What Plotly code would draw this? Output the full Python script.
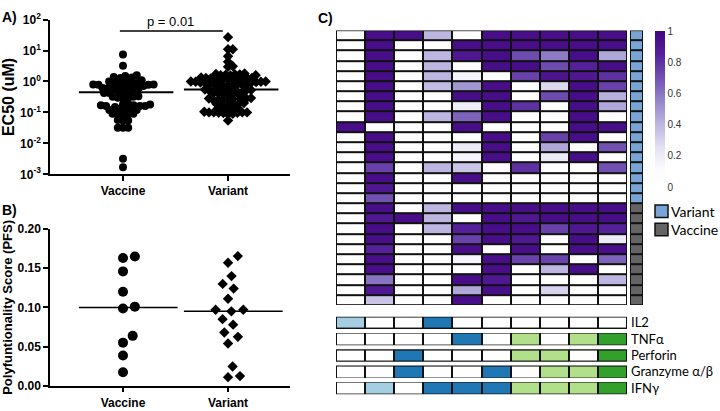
import numpy as np
import plotly.graph_objects as go

# ---------------- data ----------------
groups = ["Vaccine", "Variant"]

ec50_vaccine = [7.5, 3.2,
                1.6, 1.5, 1.4, 1.35, 1.3,
                1.1, 1.05, 1.0, 1.0, 0.95, 0.9,
                0.8, 0.8, 0.8, 0.78, 0.78, 0.75, 0.75, 0.72, 0.7,
                0.62, 0.6, 0.6, 0.58, 0.55, 0.55,
                0.45, 0.44, 0.42, 0.42, 0.4,
                0.33, 0.32, 0.32, 0.3, 0.3, 0.28,
                0.19, 0.18, 0.18, 0.17, 0.17, 0.16, 0.16, 0.16, 0.15,
                0.13, 0.13, 0.12, 0.12, 0.12,
                0.09, 0.09, 0.088, 0.088, 0.085,
                0.057, 0.055, 0.055,
                0.032, 0.032, 0.032,
                0.0032, 0.0017]

ec50_variant = [27,
                11, 11,
                6.5,
                4.3,
                3.1, 3.0,
                1.8, 1.75, 1.7, 1.7, 1.65, 1.6, 1.6, 1.55,
                1.35, 1.3, 1.3, 1.3, 1.25, 1.25, 1.2, 1.2, 1.2, 1.15, 1.15,
                1.0, 1.0, 0.98, 0.98, 0.95, 0.95, 0.92, 0.92, 0.9,
                0.82, 0.8, 0.8, 0.78, 0.78, 0.76, 0.75, 0.74,
                0.58, 0.56, 0.55, 0.55, 0.54, 0.53, 0.52, 0.5,
                0.43, 0.42, 0.42, 0.41, 0.4, 0.4, 0.39,
                0.29, 0.28, 0.28, 0.27, 0.27, 0.26, 0.26, 0.25, 0.25,
                0.2, 0.2, 0.19, 0.19, 0.19, 0.18,
                0.145, 0.14, 0.14, 0.135, 0.13,
                0.105, 0.1, 0.1, 0.1, 0.1, 0.098, 0.098, 0.096,
                0.09, 0.088,
                0.055]

ec50_medians = [0.45, 0.55]
p_text = "p = 0.01"
p_bracket_y = 43

pfs_vaccine = [0.165, 0.163, 0.146, 0.120, 0.101, 0.0986, 0.0637, 0.055, 0.0386, 0.0172]
pfs_variant = [0.1655, 0.157, 0.140, 0.130, 0.124, 0.111, 0.097, 0.097, 0.095, 0.085,
               0.078, 0.068, 0.0624, 0.054, 0.0246, 0.0123, 0.011]
pfs_medians = [0.100, 0.095]

functions = ["IL2", "TNFα", "Perforin", "Granzyme α/β", "IFNγ"]
combo_matrix = [
    [1, 0, 0, 1, 0, 0, 0, 0, 0, 0],
    [0, 0, 0, 0, 1, 0, 1, 0, 1, 1],
    [0, 0, 1, 0, 0, 0, 1, 1, 0, 1],
    [0, 0, 1, 0, 0, 1, 0, 1, 1, 1],
    [0, 1, 0, 1, 1, 1, 1, 1, 1, 1],
]

sample_groups = ["Variant"] * 17 + ["Vaccine"] * 10

heat_values = [
    [0, .95, .95, .4, 0, .95, .95, .95, .95, .95],
    [0, .95, 0, 0, .95, .95, .95, .95, .95, .95],
    [0, .95, 0, .4, .9, .95, .72, .58, .95, .45],
    [0, .95, 0, .4, 0, .95, .95, .72, .85, .95],
    [0, .95, 0, .4, .15, 0, .75, .92, .9, .8],
    [0, .95, 0, .38, .5, .95, 0, .28, .95, .75],
    [0, .95, 0, 0, .95, .95, 0, .72, .95, .42],
    [0, .95, 0, 0, .18, .95, .8, 0, .95, .45],
    [0, .95, 0, .4, .65, .95, 0, 0, .95, 0],
    [.95, 0, 0, 0, .95, 0, 0, 0, .95, .95],
    [0, .95, 0, 0, 0, .95, 0, .75, .95, 0],
    [0, .95, 0, 0, .2, .95, 0, .45, 0, .7],
    [0, .95, 0, 0, .15, .95, 0, .2, .95, 0],
    [0, .75, 0, .4, .35, 0, .8, 0, 0, .7],
    [0, .95, 0, 0, .95, 0, 0, 0, 0, 0],
    [0, .9, 0, 0, 0, 0, 0, 0, 0, 0],
    [0, .7, 0, 0, 0, 0, 0, 0, 0, 0],
    [0, .95, 0, .4, .95, .95, .95, .95, .95, .95],
    [0, .9, .95, .4, 0, .95, .9, .95, .95, .95],
    [0, .95, 0, .4, .85, .95, .95, .75, .9, .85],
    [0, .95, 0, 0, .75, .95, .9, .1, .95, .2],
    [0, .85, 0, 0, .95, 0, .95, 0, .95, .95],
    [0, .95, 0, 0, .15, .95, .75, .75, 0, .65],
    [0, .95, 0, 0, 0, .95, 0, .4, .95, 0],
    [0, .6, 0, 0, .95, .9, 0, 0, 0, .4],
    [0, .9, 0, 0, .45, .95, 0, .3, 0, 0],
    [0, .35, 0, 0, .95, 0, 0, 0, 0, 0],
]

cbar_ticks = [0, 0.2, 0.4, 0.6, 0.8, 1]

# ---------------- layout helpers ----------------
W, H = 720, 411


def px_x(p):
    return p / W


def px_y(p):
    return (H - p) / H


def swarm(values, ypix, d):
    """Beeswarm horizontal offsets (pixels) so markers spaced by d don't collide."""
    ys = [ypix(v) for v in values]
    order = np.argsort(ys)
    placed = []
    offs = [0.0] * len(values)
    for i in order:
        y = ys[i]
        cands = [0.0]
        for (py, pxx) in placed:
            dy = abs(py - y)
            if dy < d:
                dx = np.sqrt(d * d - dy * dy)
                cands += [pxx + dx, pxx - dx]
        best = 0.0
        for c in sorted(cands, key=abs):
            if all((c - pxx) ** 2 + (y - py) ** 2 >= d * d - 1e-6 for py, pxx in placed):
                best = c
                break
        offs[i] = best
        placed.append((y, best))
    return offs


FONT = "Arial, Liberation Sans, sans-serif"
LFONT = "Lato, sans-serif"
XPX = 105.0  # pixels per category unit
A_DEC = 32.2  # pixels per decade panel A
B_UNIT = 163 / 0.2

fig = go.Figure()

# ---- Panel A ----
marker_syms = ["circle", "diamond"]
ec50_sets = [ec50_vaccine, ec50_variant]
sizes_A = [8, 8]
spacing_A = [5.2, 4.8]
for gi, vals in enumerate(ec50_sets):
    offs = swarm(vals, lambda v: np.log10(v) * A_DEC, spacing_A[gi])
    fig.add_trace(go.Scatter(
        x=[gi + o / XPX for o in offs], y=vals, mode="markers",
        marker=dict(symbol=marker_syms[gi], size=sizes_A[gi], color="black"),
        xaxis="x", yaxis="y", showlegend=False, cliponaxis=False))
    fig.add_trace(go.Scatter(
        x=[gi - 0.42, gi + 0.48], y=[ec50_medians[gi]] * 2, mode="lines",
        line=dict(color="black", width=2), xaxis="x", yaxis="y", showlegend=False))
fig.add_trace(go.Scatter(x=[-0.03, 0.95], y=[p_bracket_y] * 2, mode="lines",
                         line=dict(color="black", width=1.5), xaxis="x", yaxis="y",
                         showlegend=False, cliponaxis=False))

# ---- Panel B ----
pfs_sets = [pfs_vaccine, pfs_variant]
sizes_B = [10, 8]
for gi, vals in enumerate(pfs_sets):
    offs = swarm(vals, lambda v: v * B_UNIT, 12.0)
    fig.add_trace(go.Scatter(
        x=[gi + o / XPX for o in offs], y=vals, mode="markers",
        marker=dict(symbol=marker_syms[gi], size=sizes_B[gi], color="black"),
        xaxis="x2", yaxis="y2", showlegend=False, cliponaxis=False))
    fig.add_trace(go.Scatter(
        x=[gi - 0.42, gi + 0.52], y=[pfs_medians[gi]] * 2, mode="lines",
        line=dict(color="black", width=1.5), xaxis="x2", yaxis="y2", showlegend=False))

# ---- Heatmap ----
purples = [[0.0, "#ffffff"], [0.12, "#fbfaff"], [0.25, "#e4e2f3"], [0.4, "#bdb6e0"],
           [0.55, "#9486cb"], [0.7, "#7151b2"], [0.85, "#55219a"], [1.0, "#420582"]]
nrow = len(heat_values)
ncol = len(heat_values[0])
fig.add_trace(go.Heatmap(
    z=heat_values, x=list(range(ncol)), y=list(range(nrow)),
    colorscale=purples, zmin=0, zmax=1, xgap=2, ygap=2,
    xaxis="x3", yaxis="y3", hoverinfo="skip",
    colorbar=dict(x=px_x(655), xanchor="left", y=px_y(23), yanchor="top",
                  len=156, lenmode="pixels", thickness=10, thicknessmode="pixels",
                  ypad=0, xpad=0, outlinewidth=0, ticks="",
                  tickvals=cbar_ticks, ticktext=[f"{t:g}" for t in cbar_ticks],
                  tickfont=dict(family=FONT, size=10, color="#333333"))))

group_code = [[1 if g == "Variant" else 0] for g in sample_groups]
fig.add_trace(go.Heatmap(
    z=group_code, x=[0], y=list(range(nrow)),
    colorscale=[[0, "#646464"], [0.5, "#646464"], [0.5, "#78a4d6"], [1, "#78a4d6"]],
    zmin=0, zmax=1, xgap=2, ygap=2, showscale=False,
    xaxis="x4", yaxis="y4", hoverinfo="skip"))

# ---- Boolean function grid ----
row_h, gap_h = 13, 4
edges = [0]
bool_z = []
counts = [sum(combo_matrix[r][c] for r in range(len(functions))) for c in range(ncol)]
for r in range(len(functions)):
    bool_z.append([counts[c] if combo_matrix[r][c] else 0 for c in range(ncol)])
    edges.append(edges[-1] + row_h)
    if r < len(functions) - 1:
        bool_z.append([None] * ncol)
        edges.append(edges[-1] + gap_h)
bool_cs = [[0, "#ffffff"], [0.125, "#ffffff"], [0.125, "#a6cee3"], [0.375, "#a6cee3"],
           [0.375, "#1f78b4"], [0.625, "#1f78b4"], [0.625, "#b2df8a"], [0.875, "#b2df8a"],
           [0.875, "#33a02c"], [1, "#33a02c"]]
xedges = [c - 0.5 for c in range(ncol + 1)]
fig.add_trace(go.Heatmap(
    z=bool_z, x=xedges, y=edges, colorscale=bool_cs, zmin=0, zmax=4,
    xgap=2, ygap=2, showscale=False, xaxis="x5", yaxis="y5", hoverinfo="skip"))

shapes = [
    dict(type="rect", xref="x3", yref="y3", x0=-0.5, x1=ncol - 0.5, y0=-0.5, y1=nrow - 0.5,
         fillcolor="#111111", line=dict(width=0), layer="below"),
    dict(type="rect", xref="x4", yref="y4", x0=-0.5, x1=0.5, y0=-0.5, y1=nrow - 0.5,
         fillcolor="#111111", line=dict(width=0), layer="below"),
]
for r in range(len(functions)):
    top = r * (row_h + gap_h)
    shapes.append(dict(type="rect", xref="x5", yref="y5", x0=-0.5, x1=ncol - 0.5,
                       y0=top, y1=top + row_h, fillcolor="#111111",
                       line=dict(width=0), layer="below"))

# legend boxes (manual)
legend_items = [("Variant", "#78a4d6", 204), ("Vaccine", "#646464", 223)]
annotations = []
for name, col, ytop in legend_items:
    shapes.append(dict(type="rect", xref="paper", yref="paper",
                       x0=px_x(655), x1=px_x(668), y0=px_y(ytop + 13), y1=px_y(ytop),
                       fillcolor=col, line=dict(color="#111111", width=1.5)))
    annotations.append(dict(text=name, x=px_x(669), y=px_y(ytop + 6.5), xref="paper",
                            yref="paper", xanchor="left", yanchor="middle", showarrow=False,
                            font=dict(family=LFONT, size=14, color="black")))

# panel letters and p-value
for lab, xx, yy in [("A)", 0, 8), ("B)", 0, 209), ("C)", 316, 9)]:
    annotations.append(dict(text=f"<b>{lab}</b>", x=px_x(xx), y=px_y(yy), xref="paper",
                            yref="paper", xanchor="left", yanchor="middle", showarrow=False,
                            font=dict(family=FONT, size=14, color="black")))
annotations.append(dict(text=p_text, x=0.45, xref="x", y=px_y(13), yref="paper",
                        xanchor="center", yanchor="middle", showarrow=False,
                        font=dict(family=FONT, size=13, color="black")))

axis_common = dict(showline=True, linecolor="black", linewidth=1.5, ticks="outside",
                   ticklen=5, tickwidth=1.5, tickcolor="black", showgrid=False,
                   zeroline=False,
                   tickfont=dict(family=FONT, size=12, color="black", weight="bold"))

dec = [-3, -2, -1, 0, 1, 2]
fig.update_layout(
    width=W, height=H, margin=dict(l=0, r=0, t=0, b=0),
    paper_bgcolor="white", plot_bgcolor="white",
    xaxis=dict(domain=[px_x(50), px_x(290)], range=[-0.695, 1.59], anchor="y",
               tickvals=[0, 1], ticktext=groups, **axis_common),
    yaxis=dict(domain=[px_y(172), px_y(11)], type="log", range=[-3, 2], anchor="x",
               tickvals=[10.0 ** d for d in dec],
               ticktext=[f"10<sup>{d}</sup>" for d in dec],
               title=dict(text="EC50 (uM)", standoff=1,
                          font=dict(family=FONT, size=16, color="black", weight="bold")),
               **axis_common),
    xaxis2=dict(domain=[px_x(50), px_x(290)], range=[-0.695, 1.59], anchor="y2",
                tickvals=[0, 1], ticktext=groups, **axis_common),
    yaxis2=dict(domain=[px_y(392), px_y(229)], range=[0, 0.2], anchor="x2",
                tickvals=[0, 0.05, 0.1, 0.15, 0.2],
                ticktext=["0.00", "0.05", "0.10", "0.15", "0.20"],
                title=dict(text="Polyfuntionality Score (PFS)", standoff=4,
                           font=dict(family=FONT, size=13, color="black", weight="bold")),
                **axis_common),
    xaxis3=dict(domain=[px_x(336), px_x(627)], range=[-0.5, ncol - 0.5], anchor="y3",
                visible=False),
    yaxis3=dict(domain=[px_y(308), px_y(22)], range=[nrow - 0.5, -0.5], anchor="x3",
                visible=False),
    xaxis4=dict(domain=[px_x(630), px_x(643)], range=[-0.5, 0.5], anchor="y4",
                visible=False),
    yaxis4=dict(domain=[px_y(308), px_y(22)], range=[nrow - 0.5, -0.5], anchor="x4",
                visible=False),
    xaxis5=dict(domain=[px_x(336), px_x(627)], range=[-0.5, ncol - 0.5], anchor="y5",
                visible=False),
    yaxis5=dict(domain=[px_y(401), px_y(320)], range=[edges[-1], 0], anchor="x5",
                side="right", showline=False, ticks="", showgrid=False, zeroline=False,
                tickvals=[r * (row_h + gap_h) + row_h / 2 for r in range(len(functions))],
                ticktext=functions, ticklabelstandoff=3,
                tickfont=dict(family=LFONT, size=13, color="black")),
    shapes=shapes, annotations=annotations,
)

fig.write_html("out.html", config={"displayModeBar": False},
               post_script="document.body.style.margin='0';document.body.style.padding='0';")
